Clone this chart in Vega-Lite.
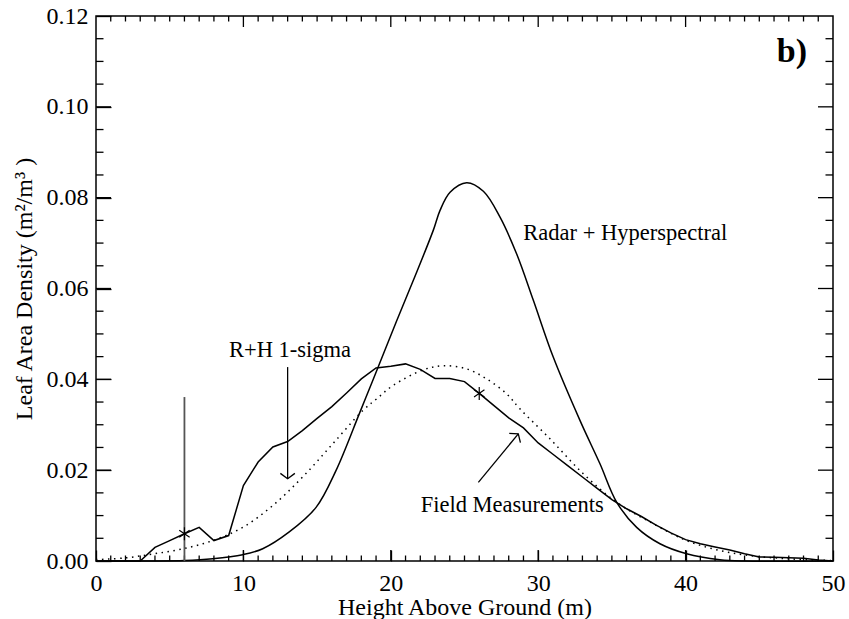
{
  "$schema": "https://vega.github.io/schema/vega-lite/v6.json",
  "width": 737,
  "height": 545,
  "autosize": {"type": "none"},
  "padding": {"left": 96, "top": 16, "right": 16, "bottom": 58},
  "background": "white",
  "config": {
    "font": "Liberation Serif",
    "view": {"stroke": "black", "strokeWidth": 1.5},
    "axis": {
      "grid": false, "domain": false, "ticks": true, "tickColor": "black", "tickWidth": 1.3,
      "labelColor": "black", "titleColor": "black",
      "labelFont": "Liberation Serif", "titleFont": "Liberation Serif",
      "labelFontSize": 24, "titleFontSize": 24, "titleFontWeight": "normal",
      "labelFlush": false, "labelOverlap": false
    }
  },
  "datasets": {
    "radar": [
      {"h": 0, "v": 0}, {"h": 2, "v": 0}, {"h": 4, "v": 0}, {"h": 6, "v": 0.0001},
      {"h": 7.92, "v": 0.0005}, {"h": 9.95, "v": 0.0014}, {"h": 11.31, "v": 0.0027},
      {"h": 13.11, "v": 0.0064}, {"h": 14.93, "v": 0.0118}, {"h": 16.28, "v": 0.0199},
      {"h": 17.86, "v": 0.0324}, {"h": 18.77, "v": 0.0397}, {"h": 20.4, "v": 0.0529},
      {"h": 21.53, "v": 0.0618}, {"h": 22.88, "v": 0.0728}, {"h": 23.34, "v": 0.0772},
      {"h": 24.02, "v": 0.0812}, {"h": 25.15, "v": 0.0833}, {"h": 26.28, "v": 0.0814},
      {"h": 27.41, "v": 0.0757}, {"h": 28.54, "v": 0.0676}, {"h": 29.67, "v": 0.0574},
      {"h": 31.02, "v": 0.0449}, {"h": 32.84, "v": 0.0309}, {"h": 34.19, "v": 0.0214},
      {"h": 35.33, "v": 0.0129}, {"h": 36.68, "v": 0.0074}, {"h": 38.26, "v": 0.0038},
      {"h": 40.07, "v": 0.0016}, {"h": 42.33, "v": 0.0003}, {"h": 44, "v": 0},
      {"h": 50, "v": 0}
    ],
    "field": [
      {"h": 0, "v": 0}, {"h": 1, "v": 0}, {"h": 2, "v": 0}, {"h": 3, "v": 0},
      {"h": 4, "v": 0.003}, {"h": 5, "v": 0.0045}, {"h": 6, "v": 0.006}, {"h": 7, "v": 0.0074},
      {"h": 8, "v": 0.0045}, {"h": 9, "v": 0.0056}, {"h": 10, "v": 0.0166}, {"h": 11, "v": 0.0218},
      {"h": 12, "v": 0.0251}, {"h": 13, "v": 0.0263}, {"h": 14, "v": 0.0287}, {"h": 15, "v": 0.0314},
      {"h": 16, "v": 0.034}, {"h": 17, "v": 0.037}, {"h": 18, "v": 0.0401}, {"h": 19, "v": 0.0425},
      {"h": 20, "v": 0.0429}, {"h": 21, "v": 0.0434}, {"h": 22, "v": 0.0422}, {"h": 23, "v": 0.0402},
      {"h": 24, "v": 0.0402}, {"h": 25, "v": 0.0395}, {"h": 26, "v": 0.0369}, {"h": 27, "v": 0.0342},
      {"h": 28, "v": 0.0315}, {"h": 29, "v": 0.0293}, {"h": 30, "v": 0.026}, {"h": 31, "v": 0.0235},
      {"h": 32, "v": 0.021}, {"h": 33, "v": 0.0185}, {"h": 34, "v": 0.016}, {"h": 35, "v": 0.0135},
      {"h": 36, "v": 0.0115}, {"h": 37, "v": 0.0098}, {"h": 38, "v": 0.0079}, {"h": 39, "v": 0.0062},
      {"h": 40, "v": 0.0047}, {"h": 41, "v": 0.0038}, {"h": 42, "v": 0.0031}, {"h": 43, "v": 0.0024},
      {"h": 44, "v": 0.0016}, {"h": 45, "v": 0.0009}, {"h": 46, "v": 0.0008}, {"h": 47, "v": 0.0007},
      {"h": 48, "v": 0.0006}, {"h": 49, "v": 0.0002}, {"h": 50, "v": 0}
    ],
    "sigma": [
      {"h": 0, "v": 0.0003}, {"h": 2.04, "v": 0.0007}, {"h": 3.96, "v": 0.0016},
      {"h": 5.92, "v": 0.0027}, {"h": 7.92, "v": 0.0045}, {"h": 9.95, "v": 0.0074},
      {"h": 11.99, "v": 0.0122}, {"h": 14.02, "v": 0.0185}, {"h": 16.06, "v": 0.0258},
      {"h": 18.09, "v": 0.0331}, {"h": 19.04, "v": 0.0357}, {"h": 20.13, "v": 0.0386},
      {"h": 22.21, "v": 0.0421}, {"h": 23.56, "v": 0.043}, {"h": 25.15, "v": 0.0423},
      {"h": 26.5, "v": 0.0401}, {"h": 27.86, "v": 0.0368}, {"h": 28.76, "v": 0.0335},
      {"h": 30.8, "v": 0.0269}, {"h": 33.06, "v": 0.0192}, {"h": 35.33, "v": 0.0129},
      {"h": 37.81, "v": 0.0082}, {"h": 40.07, "v": 0.0045}, {"h": 42.33, "v": 0.0023},
      {"h": 44.59, "v": 0.0011}, {"h": 46.86, "v": 0.0005}, {"h": 48.9, "v": 0.0002},
      {"h": 50, "v": 0.0001}
    ],
    "xmajor": [{"h": 10}, {"h": 20}, {"h": 30}, {"h": 40}],
    "xminor": [
      {"h": 1}, {"h": 2}, {"h": 3}, {"h": 4}, {"h": 5}, {"h": 6}, {"h": 7}, {"h": 8}, {"h": 9},
      {"h": 11}, {"h": 12}, {"h": 13}, {"h": 14}, {"h": 15}, {"h": 16}, {"h": 17}, {"h": 18}, {"h": 19},
      {"h": 21}, {"h": 22}, {"h": 23}, {"h": 24}, {"h": 25}, {"h": 26}, {"h": 27}, {"h": 28}, {"h": 29},
      {"h": 31}, {"h": 32}, {"h": 33}, {"h": 34}, {"h": 35}, {"h": 36}, {"h": 37}, {"h": 38}, {"h": 39},
      {"h": 41}, {"h": 42}, {"h": 43}, {"h": 44}, {"h": 45}, {"h": 46}, {"h": 47}, {"h": 48}, {"h": 49}
    ],
    "ymajor": [{"v": 0.02}, {"v": 0.04}, {"v": 0.06}, {"v": 0.08}, {"v": 0.1}],
    "yminor": [
      {"v": 0.005}, {"v": 0.01}, {"v": 0.015}, {"v": 0.025}, {"v": 0.03}, {"v": 0.035},
      {"v": 0.045}, {"v": 0.05}, {"v": 0.055}, {"v": 0.065}, {"v": 0.07}, {"v": 0.075},
      {"v": 0.085}, {"v": 0.09}, {"v": 0.095}, {"v": 0.105}, {"v": 0.11}, {"v": 0.115}
    ],
    "vline": [{"h": 6, "v": 0, "v2": 0.0361}],
    "arrows": [
      {"name": "sigma", "h": 13, "v": 0.0427, "h2": 13, "v2": 0.0181},
      {"name": "field", "h": 25.94, "v": 0.0173, "h2": 28.65, "v2": 0.028}
    ],
    "stars": [{"h": 6, "v": 0.006}, {"h": 26, "v": 0.0369}],
    "labels": [
      {"h": 13.16, "v": 0.045, "text": "R+H 1-sigma", "pos": "center"},
      {"h": 22.03, "v": 0.0107, "text": "Field Measurements", "pos": "left"},
      {"h": 28.99, "v": 0.0706, "text": "Radar + Hyperspectral", "pos": "left"}
    ],
    "panel": [{"h": 48.24, "v": 0.1098, "text": "b)"}]
  },
  "layer": [
    {
      "data": {"name": "radar"},
      "mark": {"type": "line", "color": "black", "strokeWidth": 1.5, "interpolate": "catmull-rom"},
      "encoding": {
        "x": {"field": "h", "type": "quantitative", "scale": {"domain": [0, 50], "nice": false},
          "axis": {"orient": "bottom", "values": [0, 10, 20, 30, 40, 50], "tickSize": -11, "labelPadding": 21,
            "title": "Height Above Ground (m)", "titlePadding": 0}},
        "y": {"field": "v", "type": "quantitative", "scale": {"domain": [0, 0.12], "nice": false},
          "axis": {"orient": "left", "values": [0, 0.02, 0.04, 0.06, 0.08, 0.1, 0.12], "format": ".2f",
            "tickSize": -15, "labelPadding": 23, "title": "Leaf Area Density (m²/m³ )", "titlePadding": 10}}
      }
    },
    {
      "data": {"name": "field"},
      "mark": {"type": "line", "color": "black", "strokeWidth": 1.5},
      "encoding": {
        "x": {"field": "h", "type": "quantitative"},
        "y": {"field": "v", "type": "quantitative"}
      }
    },
    {
      "data": {"name": "sigma"},
      "mark": {"type": "line", "color": "black", "strokeWidth": 1.5, "strokeDash": [1.5, 4.5], "interpolate": "catmull-rom"},
      "encoding": {
        "x": {"field": "h", "type": "quantitative"},
        "y": {"field": "v", "type": "quantitative"}
      }
    },
    {
      "data": {"name": "xmajor"},
      "mark": {"type": "rule", "color": "black", "strokeWidth": 1.3},
      "encoding": {"x": {"field": "h", "type": "quantitative"}, "y": {"datum": 0.00242, "type": "quantitative"}, "y2": {"datum": 0.0000001}}
    },
    {
      "data": {"name": "xmajor"},
      "mark": {"type": "rule", "color": "black", "strokeWidth": 1.3},
      "encoding": {"x": {"field": "h", "type": "quantitative"}, "y": {"datum": 0.11758, "type": "quantitative"}, "y2": {"datum": 0.1199999}}
    },
    {
      "data": {"name": "xminor"},
      "mark": {"type": "rule", "color": "black", "strokeWidth": 1.3},
      "encoding": {"x": {"field": "h", "type": "quantitative"}, "y": {"datum": 0.00121, "type": "quantitative"}, "y2": {"datum": 0.0000001}}
    },
    {
      "data": {"name": "xminor"},
      "mark": {"type": "rule", "color": "black", "strokeWidth": 1.3},
      "encoding": {"x": {"field": "h", "type": "quantitative"}, "y": {"datum": 0.11879, "type": "quantitative"}, "y2": {"datum": 0.1199999}}
    },
    {
      "data": {"name": "ymajor"},
      "mark": {"type": "rule", "color": "black", "strokeWidth": 1.3},
      "encoding": {"y": {"field": "v", "type": "quantitative"}, "x": {"datum": 1.0176, "type": "quantitative"}, "x2": {"datum": 0.0001}}
    },
    {
      "data": {"name": "ymajor"},
      "mark": {"type": "rule", "color": "black", "strokeWidth": 1.3},
      "encoding": {"y": {"field": "v", "type": "quantitative"}, "x": {"datum": 48.9824, "type": "quantitative"}, "x2": {"datum": 49.9999}}
    },
    {
      "data": {"name": "yminor"},
      "mark": {"type": "rule", "color": "black", "strokeWidth": 1.3},
      "encoding": {"y": {"field": "v", "type": "quantitative"}, "x": {"datum": 0.5088, "type": "quantitative"}, "x2": {"datum": 0.0001}}
    },
    {
      "data": {"name": "yminor"},
      "mark": {"type": "rule", "color": "black", "strokeWidth": 1.3},
      "encoding": {"y": {"field": "v", "type": "quantitative"}, "x": {"datum": 49.4912, "type": "quantitative"}, "x2": {"datum": 49.9999}}
    },
    {
      "data": {"name": "vline"},
      "mark": {"type": "rule", "color": "#555555", "strokeWidth": 1.8},
      "encoding": {
        "x": {"field": "h", "type": "quantitative"},
        "y": {"field": "v", "type": "quantitative"},
        "y2": {"field": "v2"}
      }
    },
    {
      "data": {"name": "arrows"},
      "mark": {"type": "rule", "color": "black", "strokeWidth": 1.3},
      "encoding": {
        "x": {"field": "h", "type": "quantitative"},
        "x2": {"field": "h2"},
        "y": {"field": "v", "type": "quantitative"},
        "y2": {"field": "v2"}
      }
    },
    {
      "data": {"name": "arrows"},
      "transform": [{"filter": "datum.name === 'sigma'"}],
      "mark": {"type": "point", "shape": "M-1,-0.75L0,0L1,-0.75", "filled": false, "stroke": "black", "strokeWidth": 1.3, "size": 210, "opacity": 1},
      "encoding": {
        "x": {"field": "h2", "type": "quantitative"},
        "y": {"field": "v2", "type": "quantitative"}
      }
    },
    {
      "data": {"name": "arrows"},
      "transform": [{"filter": "datum.name === 'field'"}],
      "mark": {"type": "point", "shape": "M-1,-0.75L0,0L1,-0.75", "filled": false, "stroke": "black", "strokeWidth": 1.3, "size": 210, "angle": 219.6, "opacity": 1},
      "encoding": {
        "x": {"field": "h2", "type": "quantitative"},
        "y": {"field": "v2", "type": "quantitative"}
      }
    },
    {
      "data": {"name": "stars"},
      "mark": {"type": "point", "shape": "M0,-1L0,1M-0.8,-0.55L0.8,0.55M-0.8,0.55L0.8,-0.55", "filled": false, "stroke": "black", "strokeWidth": 1.2, "size": 169, "opacity": 1},
      "encoding": {
        "x": {"field": "h", "type": "quantitative"},
        "y": {"field": "v", "type": "quantitative"}
      }
    },
    {
      "data": {"name": "labels"},
      "transform": [{"filter": "datum.pos === 'center'"}],
      "mark": {"type": "text", "font": "Liberation Serif", "fontSize": 22.5, "align": "center", "baseline": "alphabetic", "color": "black"},
      "encoding": {
        "x": {"field": "h", "type": "quantitative"},
        "y": {"field": "v", "type": "quantitative"},
        "text": {"field": "text"}
      }
    },
    {
      "data": {"name": "labels"},
      "transform": [{"filter": "datum.pos === 'left'"}],
      "mark": {"type": "text", "font": "Liberation Serif", "fontSize": 22.5, "align": "left", "baseline": "alphabetic", "color": "black"},
      "encoding": {
        "x": {"field": "h", "type": "quantitative"},
        "y": {"field": "v", "type": "quantitative"},
        "text": {"field": "text"}
      }
    },
    {
      "data": {"name": "panel"},
      "mark": {"type": "text", "font": "Liberation Serif", "fontSize": 34, "fontWeight": "bold", "align": "right", "baseline": "alphabetic", "color": "black"},
      "encoding": {
        "x": {"field": "h", "type": "quantitative"},
        "y": {"field": "v", "type": "quantitative"},
        "text": {"field": "text"}
      }
    }
  ]
}
